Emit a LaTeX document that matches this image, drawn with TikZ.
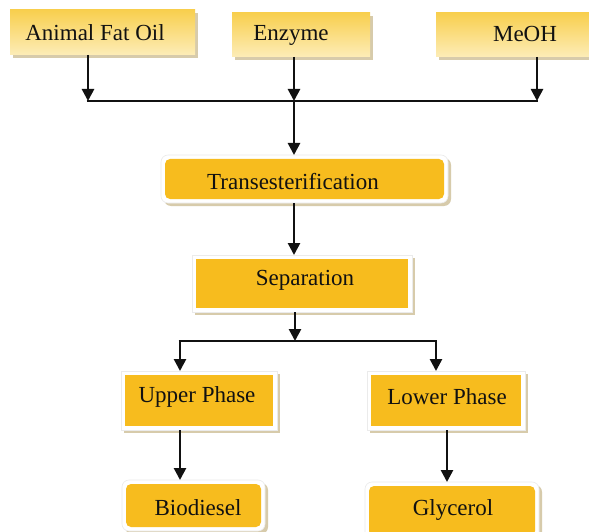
\documentclass[tikz,border=0pt]{standalone}
\usepackage{fontspec}
\setmainfont{Liberation Serif}
\usetikzlibrary{shadows,arrows.meta}
\definecolor{boxorange}{HTML}{F7BC1E}
\definecolor{topgold}{HTML}{F8CF4E}
\definecolor{topcream}{HTML}{FEF4D2}
\definecolor{shadowtan}{HTML}{CDBF96}
\definecolor{ink}{HTML}{111111}
\begin{document}
\begin{tikzpicture}[x=1pt,y=-1pt,
  lbl/.style={font=\fontsize{23}{27}\selectfont, text=ink, inner sep=0pt},
  boxbase/.style={inner sep=0pt, outer sep=0pt},
  topbox/.style={boxbase, top color=topgold, middle color=topcream, bottom color=topcream!80!topgold,
    drop shadow={shadow xshift=3pt, shadow yshift=-3pt, fill=shadowtan, opacity=0.8}},
  procbox/.style={boxbase, fill=white, draw=black!8, line width=0.6pt,
    drop shadow={shadow xshift=3pt, shadow yshift=-3pt, fill=shadowtan, opacity=0.8},
    path picture={\fill[boxorange] ([shift={(4pt,4pt)}]path picture bounding box.south west)
      rectangle ([shift={(-4pt,-4pt)}]path picture bounding box.north east);}},
  roundbox/.style={boxbase, fill=white, draw=black!8, line width=0.6pt, rounded corners=7pt,
    drop shadow={shadow xshift=3pt, shadow yshift=-3pt, fill=shadowtan, opacity=0.8},
    path picture={\fill[boxorange, rounded corners=5pt] ([shift={(4pt,4pt)}]path picture bounding box.south west)
      rectangle ([shift={(-4pt,-4pt)}]path picture bounding box.north east);}},
  link/.style={draw=ink, line width=2.6pt},
  arr/.style={link, -{Triangle[length=12pt,width=12pt]}}
]
\useasboundingbox[fill=white] (0,0) rectangle (589,532);

% input boxes
\node[topbox, minimum width=185pt, minimum height=45pt] (afo) at (102.5,32.5) {};
\node[topbox, minimum width=138pt, minimum height=44pt] (enz) at (301,35) {};
\node[topbox, minimum width=156pt, minimum height=44pt] (meoh) at (514,35) {};
\node[lbl] (afot) at (95,33) {Animal Fat Oil};
\node[lbl] (enzt) at (291,35) {Enzyme};
\node[lbl] (meoht) at (525,34) {MeOH};

% process boxes
\node[roundbox, minimum width=287pt, minimum height=48pt] (trans) at (304.5,179) {};
\node[lbl] (transt) at (293,182) {Transesterification};
\node[procbox, minimum width=220pt, minimum height=57pt] (sep) at (302,283.5) {};
\node[lbl] (sept) at (305,280) {Separation};
\node[procbox, minimum width=156pt, minimum height=59pt] (upper) at (199,400.5) {};
\node[lbl] (uppert) at (197,397) {Upper Phase};
\node[procbox, minimum width=158pt, minimum height=59pt] (lower) at (446,400.5) {};
\node[lbl] (lowert) at (447,397) {Lower Phase};
\node[roundbox, minimum width=143pt, minimum height=51pt] (bio) at (193.5,505.5) {};
\node[lbl] (biot) at (198,508) {Biodiesel};
\node[roundbox, minimum width=174pt, minimum height=58pt] (gly) at (452,511) {};
\node[lbl] (glyt) at (453,510) {Glycerol};

% junction points
\coordinate (jL) at (88,101);
\coordinate (jM) at (294,101);
\coordinate (jR) at (537,101);
\coordinate (kM) at (295,341);
\coordinate (kL) at (180,341);
\coordinate (kR) at (436,341);

% connectors
\draw[arr] (afo.south -| jL) -- (jL);
\draw[arr] (enz.south -| jM) -- (jM);
\draw[arr] (meoh.south -| jR) -- (jR);
\draw[link] ([xshift=-1.3pt]jL) -- ([xshift=1.3pt]jR);
\draw[arr] (jM) -- (trans.north -| jM);
\draw[arr] (trans.south -| jM) -- (sep.north -| jM);
\draw[arr] (sep.south -| kM) -- (kM);
\draw[link] ([xshift=-1.3pt]kL) -- ([xshift=1.3pt]kR);
\draw[arr] (kL) -- (upper.north -| kL);
\draw[arr] (kR) -- (lower.north -| kR);
\draw[arr] (upper.south -| kL) -- (bio.north -| kL);
\draw[arr] (lower.south -| 447,0) -- (gly.north -| 447,0);
\end{tikzpicture}
\end{document}
